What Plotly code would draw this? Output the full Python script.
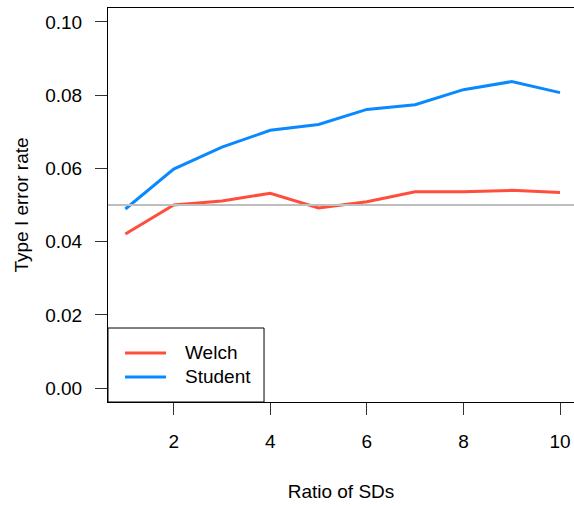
import plotly.graph_objects as go

ratio = [1, 2, 3, 4, 5, 6, 7, 8, 9, 10]
welch = [0.0421, 0.0500, 0.0511, 0.0532, 0.0492, 0.0509, 0.0536, 0.0536, 0.0540, 0.0534]
student = [0.0489, 0.0598, 0.0658, 0.0704, 0.0720, 0.0761, 0.0774, 0.0815, 0.0837, 0.0807]
nominal = 0.05
x_ticks = [2, 4, 6, 8, 10]
y_ticks = [0.00, 0.02, 0.04, 0.06, 0.08, 0.10]
y_ticklabels = ["0.00", "0.02", "0.04", "0.06", "0.08", "0.10"]
series_names = ["Welch", "Student"]

RED = "#FF4E3C"
BLUE = "#0A89FF"
FONT = "Liberation Sans, Arial, sans-serif"
FS = 19

fig = go.Figure()
fig.add_trace(go.Scatter(x=ratio, y=welch, mode="lines", name=series_names[0],
                         line=dict(color=RED, width=3), showlegend=False))
fig.add_trace(go.Scatter(x=ratio, y=student, mode="lines", name=series_names[1],
                         line=dict(color=BLUE, width=3), showlegend=False))
fig.add_hline(y=nominal, line=dict(color="#BEBEBE", width=2), layer="above")

# R-style legend box in the bottom-left corner of the plot area
fig.add_shape(type="rect", xref="paper", yref="paper", x0=0, x1=0.3348, y0=0, y1=0.1878,
              line=dict(color="black", width=1), fillcolor="white", layer="above")
for name, color, yy in [(series_names[0], RED, 0.1244), (series_names[1], BLUE, 0.0635)]:
    fig.add_shape(type="line", xref="paper", yref="paper", x0=0.0365, x1=0.1245, y0=yy, y1=yy,
                  line=dict(color=color, width=3), layer="above")
    fig.add_annotation(xref="paper", yref="paper", x=0.161, y=yy, text=name, showarrow=False,
                       xanchor="left", yanchor="middle", font=dict(size=FS, color="black"))

fig.update_layout(
    width=574, height=506,
    margin=dict(l=108, r=0, t=8, b=104),
    paper_bgcolor="white", plot_bgcolor="white",
    font=dict(family=FONT, size=FS, color="black"),
    showlegend=False,
    xaxis=dict(range=[0.64, 10.29], tickvals=x_ticks, ticks="outside",
               ticklen=12, tickwidth=1, tickcolor="#333", showgrid=False,
               zeroline=False, showline=True, linecolor="black", linewidth=1,
               mirror=True, ticklabelstandoff=10,
               title=dict(text="Ratio of SDs", standoff=33, font=dict(size=FS))),
    yaxis=dict(range=[-0.0038, 0.1038], tickvals=y_ticks, ticktext=y_ticklabels,
               ticks="outside", ticklen=12, tickwidth=1, tickcolor="#333",
               showgrid=False, zeroline=False, showline=True, linecolor="black",
               linewidth=1, ticklabelstandoff=9,
               title=dict(text="Type I error rate", standoff=11, font=dict(size=FS))),
)

fig.write_html("out.html")
